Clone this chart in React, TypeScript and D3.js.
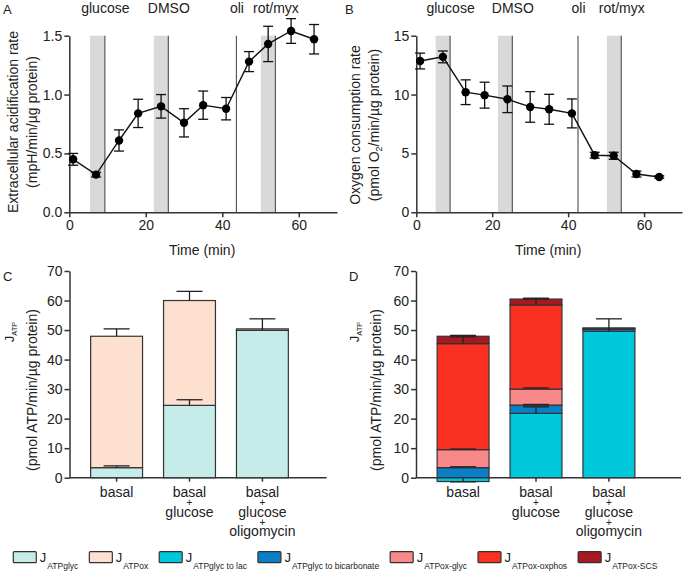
import { useEffect, useRef } from 'react';
import * as d3 from 'd3';

const FONT = "'Liberation Sans', Arial, Helvetica, sans-serif";

// --- time course (panels A, B) ---
const times = [1, 7, 13, 18, 24, 30, 35, 41, 47, 52, 58, 64];
const ecar = [0.45, 0.32, 0.61, 0.84, 0.9, 0.76, 0.91, 0.88, 1.28, 1.43, 1.54, 1.47];
const ecarErr = [0.05, 0.02, 0.09, 0.12, 0.1, 0.12, 0.12, 0.095, 0.085, 0.15, 0.105, 0.125];
const ocr = [12.85, 13.2, 10.2, 9.95, 9.6, 8.95, 8.75, 8.4, 4.85, 4.8, 3.25, 3.0];
const ocrErr = [0.67, 0.5, 1.05, 1.1, 1.13, 1.3, 1.27, 1.23, 0.25, 0.3, 0.25, 0.1];

const injLabels = ['glucose', 'DMSO', 'oli', 'rot/myx'];
const injStartA = [5.4, 22.1, null, 50.1];
const injEndA = [9.3, 25.9, 43.7, 53.9];
const injStartB = [5.1, 21.5, null, 50.2];
const injEndB = [8.9, 25.3, 42.6, 54.0];

// --- ATP production (panels C, D) ---
const categories = [['basal'], ['basal', '+', 'glucose'], ['basal', '+', 'glucose', '+', 'oligomycin']];

const atpGlyc = [3.4, 24.5, 49.9];
const atpGlycErr = [0.6, 1.9, 3.9];
const atpOx = [44.5, 35.5, 0.5];
const atpOxErr = [2.5, 3.1, 0];

const glycToLac = [-1.3, 21.8, 49.6];
const glycToLacErr = [0.1, 2.2, 4.2];
const glycToBicarb = [3.4, 2.8, 0.7];
const glycToBicarbErr = [0.3, 0.2, 0];
const oxGlyc = [6.1, 5.4, 0.1];
const oxGlycErr = [0.2, 0.4, 0];
const oxOxphos = [35.9, 28.5, 0.2];
const oxOxphosErr = [2.3, 2.0, 0];
const oxScs = [2.5, 2.0, 0.1];
const oxScsErr = [0.3, 0.3, 0];

const legendSubs = ['ATPglyc', 'ATPox', 'ATPglyc to lac', 'ATPglyc to bicarbonate', 'ATPox-glyc', 'ATPox-oxphos', 'ATPox-SCS'];
const legendColors = ['#c5ece8', '#fde0d0', '#00c8dc', '#0b7ec8', '#f98888', '#fa3120', '#a81820'];

const INK = '#333';

export default function App() {
  const ref = useRef<SVGSVGElement>(null);

  useEffect(() => {
    document.body.style.margin = '0';
    const svg = d3.select(ref.current)
      .attr('width', 683).attr('height', 574)
      .style('font-family', FONT).style('background', '#fff');
    svg.selectAll('*').remove();

    const styleAxis = (sel: any) => {
      sel.attr('font-size', 14).attr('font-family', FONT);
      sel.select('.domain').attr('stroke', INK).attr('stroke-width', 1.5);
      sel.selectAll('.tick line').attr('stroke', INK).attr('stroke-width', 1.5);
      sel.selectAll('.tick text').attr('fill', '#222');
    };

    /* time course panels */
    const timeCourse = (o: any) => {
      const g = svg.append('g');
      const x = d3.scaleLinear().domain([0, 70]).range([o.x0, o.x1]);
      const y = d3.scaleLinear().domain([0, o.yMax]).range([212.3, 35.7]);
      const [yb, yt] = y.range();

      injLabels.forEach((lab, i) => {
        const s = o.start[i], e = o.end[i];
        if (s != null) {
          g.append('rect').attr('x', x(s)).attr('y', yt)
            .attr('width', x(e) - x(s)).attr('height', yb - yt).attr('fill', '#d9d9d9');
        }
        g.append('line').attr('x1', x(e)).attr('x2', x(e)).attr('y1', yb).attr('y2', yt)
          .attr('stroke', '#5a5a5a').attr('stroke-width', 1.2);
        g.append('text').attr('x', x(e) + 0.5).attr('y', 13.3)
          .attr('text-anchor', 'middle').attr('font-size', 14).attr('fill', '#222').text(lab);
      });

      g.append('g').attr('transform', `translate(0,${yb})`)
        .call(d3.axisBottom(x).tickValues([0, 20, 40, 60]).tickSize(5).tickPadding(3).tickSizeOuter(0))
        .call(styleAxis);
      g.append('g').attr('transform', `translate(${o.x0},0)`)
        .call(d3.axisLeft(y).tickValues(o.yTicks).tickFormat(d3.format(o.fmt)).tickSize(5).tickPadding(2).tickSizeOuter(0))
        .call(styleAxis);

      // error bars
      const eg = g.append('g').attr('stroke', '#111').attr('stroke-width', 1.3);
      times.forEach((t, i) => {
        const cx = x(t), lo = y(o.vals[i] - o.errs[i]), hi = y(o.vals[i] + o.errs[i]);
        eg.append('line').attr('x1', cx).attr('x2', cx).attr('y1', lo).attr('y2', hi);
        eg.append('line').attr('x1', cx - 5).attr('x2', cx + 5).attr('y1', lo).attr('y2', lo);
        eg.append('line').attr('x1', cx - 5).attr('x2', cx + 5).attr('y1', hi).attr('y2', hi);
      });
      g.append('path')
        .attr('d', d3.line<number>().x((_, i) => x(times[i])).y(v => y(v))(o.vals))
        .attr('fill', 'none').attr('stroke', '#111').attr('stroke-width', 1.4);
      g.selectAll('circle.pt').data(o.vals).join('circle')
        .attr('cx', (_: any, i: number) => x(times[i])).attr('cy', (v: number) => y(v))
        .attr('r', 4.2).attr('fill', '#000');

      g.append('text').attr('x', (o.x0 + o.x1) / 2 - 1).attr('y', 255)
        .attr('text-anchor', 'middle').attr('font-size', 14).attr('fill', '#222').text('Time (min)');
      g.append('text').attr('x', o.lx).attr('y', 13.5).attr('font-size', 13).attr('fill', '#222').text(o.letter);

      g.append('text').attr('transform', `translate(${o.t1x},${o.tY}) rotate(-90)`)
        .attr('text-anchor', 'middle').attr('font-size', 14).attr('fill', '#222').text(o.title1);
      const t2 = g.append('text').attr('transform', `translate(${o.t2x},${o.tY}) rotate(-90)`)
        .attr('text-anchor', 'middle').attr('font-size', 14).attr('fill', '#222');
      o.title2.forEach((p: any) => {
        const ts = t2.append('tspan').text(p.t);
        if (p.sub) ts.attr('font-size', 9).attr('dy', 3);
        if (p.back) ts.attr('dy', -3);
      });
    };

    timeCourse({
      x0: 69.3, x1: 337, yMax: 1.5, yTicks: [0, 0.5, 1, 1.5], fmt: '.1f',
      vals: ecar, errs: ecarErr, start: injStartA, end: injEndA,
      letter: 'A', lx: 3, t1x: 18, t2x: 37, tY: 122,
      title1: 'Extracellular acidification rate',
      title2: [{ t: '(mpH/min/µg protein)' }],
    });
    timeCourse({
      x0: 416.3, x1: 682, yMax: 15, yTicks: [0, 5, 10, 15], fmt: 'd',
      vals: ocr, errs: ocrErr, start: injStartB, end: injEndB,
      letter: 'B', lx: 345, t1x: 360, t2x: 379, tY: 125,
      title1: 'Oxygen consumption rate',
      title2: [{ t: '(pmol O' }, { t: '2', sub: true }, { t: '/min/µg protein)', back: true }],
    });

    /* stacked bar panels */
    const barPanel = (o: any) => {
      const g = svg.append('g');
      const names = categories.map(c => c.join(' '));
      const x = d3.scaleBand().domain(names).range([o.x0, o.x0 + 240]).paddingInner(0.288).paddingOuter(0.29);
      const y = d3.scaleLinear().domain([0, 70]).range([477.7, 271]);

      g.append('g').attr('transform', `translate(${o.x0},0)`)
        .call(d3.axisLeft(y).tickValues(d3.range(0, 71, 10)).tickSize(5).tickPadding(2).tickSizeOuter(0))
        .call(styleAxis);
      g.append('line').attr('x1', o.x0).attr('x2', o.xEnd).attr('y1', y(0)).attr('y2', y(0))
        .attr('stroke', INK).attr('stroke-width', 1.5);

      const rows = names.map((n, i) => {
        const r: any = { cat: n };
        o.keys.forEach((k: string, j: number) => { r[k] = o.vals[j][i]; });
        return r;
      });
      const layers = d3.stack().keys(o.keys).offset(d3.stackOffsetDiverging)(rows);
      layers.forEach((layer, j) => {
        g.append('g').selectAll('rect').data(layer).join('rect')
          .attr('x', (d: any) => x(d.data.cat)!)
          .attr('y', (d: any) => y(Math.max(d[0], d[1])))
          .attr('width', x.bandwidth())
          .attr('height', (d: any) => Math.abs(y(d[0]) - y(d[1])))
          .attr('fill', o.colors[j]).attr('stroke', INK).attr('stroke-width', 1.2);
      });
      const eg = g.append('g').attr('stroke', '#222').attr('stroke-width', 1.3);
      layers.forEach((layer, j) => {
        layer.forEach((d: any, i: number) => {
          const e = o.errs[j][i];
          if (!e) return;
          const v = o.vals[j][i];
          const cx = x(d.data.cat)! + x.bandwidth() / 2;
          const from = v >= 0 ? d[1] : d[0];
          const to = v >= 0 ? from + e : from - e;
          eg.append('line').attr('x1', cx).attr('x2', cx).attr('y1', y(from)).attr('y2', y(to));
          eg.append('line').attr('x1', cx - 13).attr('x2', cx + 13).attr('y1', y(to)).attr('y2', y(to));
        });
      });

      // category ticks + stacked labels ("+" lines set smaller, as in the original)
      names.forEach((n, i) => {
        const cx = x(n)! + x.bandwidth() / 2;
        g.append('line').attr('x1', cx).attr('x2', cx).attr('y1', y(0)).attr('y2', y(0) + 4)
          .attr('stroke', INK).attr('stroke-width', 1.5);
        categories[i].forEach((line, k) => {
          const plus = line === '+';
          g.append('text').attr('x', cx).attr('y', y(0) + 19.5 + k * 9.8 + (plus ? -1 : 0))
            .attr('text-anchor', 'middle').attr('font-size', plus ? 10 : 14).attr('fill', '#222').text(line);
        });
      });

      g.append('text').attr('x', o.lx).attr('y', 280.5).attr('font-size', 13).attr('fill', '#222').text(o.letter);
      const j = g.append('text').attr('transform', `translate(${o.jx},332) rotate(-90)`)
        .attr('text-anchor', 'middle').attr('font-size', 13).attr('fill', '#222');
      j.append('tspan').text('J');
      j.append('tspan').text('ATP').attr('font-size', 7.5).attr('dy', 2.5);
      g.append('text').attr('transform', `translate(${o.px},390) rotate(-90)`)
        .attr('text-anchor', 'middle').attr('font-size', 14).attr('fill', '#222')
        .text('(pmol ATP/min/µg protein)');
    };

    barPanel({
      x0: 69.5, xEnd: 326.7, letter: 'C', lx: 3, jx: 14, px: 37,
      keys: ['glyc', 'ox'], vals: [atpGlyc, atpOx], errs: [atpGlycErr, atpOxErr],
      colors: [legendColors[0], legendColors[1]],
    });
    barPanel({
      x0: 416, xEnd: 681, letter: 'D', lx: 349, jx: 359, px: 381,
      keys: ['lac', 'bicarb', 'oxglyc', 'oxphos', 'scs'],
      vals: [glycToLac, glycToBicarb, oxGlyc, oxOxphos, oxScs],
      errs: [glycToLacErr, glycToBicarbErr, oxGlycErr, oxOxphosErr, oxScsErr],
      colors: legendColors.slice(2),
    });

    /* legend */
    const lg = svg.append('g');
    let cursor = 13.3;
    legendSubs.forEach((sub, i) => {
      lg.append('rect').attr('x', cursor).attr('y', 551.7).attr('width', 23).attr('height', 11)
        .attr('rx', 1).attr('fill', legendColors[i]).attr('stroke', INK).attr('stroke-width', 1.2);
      const t = lg.append('text').attr('x', cursor + 26.5).attr('y', 562.3).attr('fill', '#222');
      t.append('tspan').text('J').attr('font-size', 13);
      t.append('tspan').text(sub).attr('font-size', 8.5).attr('dy', 7).attr('dx', 1);
      const w = (t.node() as SVGTextElement).getComputedTextLength();
      cursor += 26.5 + w + 12;
    });
  }, []);

  return <svg ref={ref}></svg>;
}
